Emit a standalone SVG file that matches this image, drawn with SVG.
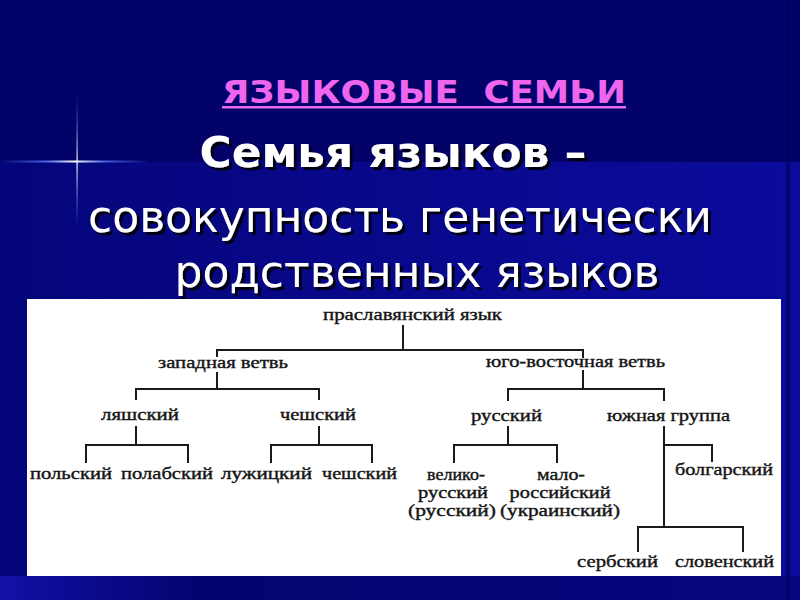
<svg xmlns="http://www.w3.org/2000/svg" width="800" height="600" viewBox="0 0 800 600">
<defs>
<linearGradient id="lowbg" x1="0" y1="0" x2="1" y2="0">
<stop offset="0" stop-color="#05057a"/>
<stop offset="0.5" stop-color="#08088c"/>
<stop offset="1" stop-color="#0b0b9c"/>
</linearGradient>
<linearGradient id="botbg" x1="0" y1="0" x2="1" y2="0">
<stop offset="0" stop-color="#1212a8"/>
<stop offset="0.07" stop-color="#0c0c96"/>
<stop offset="0.25" stop-color="#040470"/>
<stop offset="1" stop-color="#06067e"/>
</linearGradient>
<linearGradient id="hglow" x1="0" y1="0" x2="1" y2="0">
<stop offset="0" stop-color="#5a78ff" stop-opacity="0"/>
<stop offset="0.3" stop-color="#5a78ff" stop-opacity="0.8"/>
<stop offset="0.5" stop-color="#ffffff"/>
<stop offset="0.7" stop-color="#5a78ff" stop-opacity="0.8"/>
<stop offset="1" stop-color="#5a78ff" stop-opacity="0"/>
</linearGradient>
<linearGradient id="vglow" x1="0" y1="0" x2="0" y2="1">
<stop offset="0" stop-color="#5a78ff" stop-opacity="0"/>
<stop offset="0.5" stop-color="#ffffff"/>
<stop offset="1" stop-color="#5a78ff" stop-opacity="0"/>
</linearGradient>
<filter id="shadow" x="-5%" y="-20%" width="110%" height="150%">
<feDropShadow dx="3" dy="3" stdDeviation="0.6" flood-color="#000000" flood-opacity="0.85"/>
</filter>
<style>
.tree text { font-family: "Liberation Serif", "Times New Roman", serif; font-size: 17px; fill: #151515; stroke: #151515; stroke-width: 0.4; }
.conn line { stroke: #1a1a1a; stroke-width: 2; }
.hd { font-family: "DejaVu Sans", Verdana, sans-serif; fill: #ffffff; }
</style>
</defs>

<!-- background -->
<rect x="0" y="0" width="800" height="600" fill="#020268"/>
<rect x="0" y="162" width="800" height="438" fill="url(#lowbg)"/>
<rect x="0" y="576" width="800" height="24" fill="url(#botbg)"/>
<rect x="786" y="0" width="4" height="600" fill="#01015a" opacity="0.6"/>

<!-- sparkle -->
<rect x="0" y="160.5" width="150" height="2" fill="url(#hglow)"/>
<rect x="76.5" y="95" width="1.2" height="135" fill="url(#vglow)"/>

<!-- headings -->
<g id="title">
<text x="424" y="103" text-anchor="middle" class="hd" font-size="32" font-weight="bold" style="fill:#ee66ee" textLength="404" lengthAdjust="spacingAndGlyphs" xml:space="preserve">ЯЗЫКОВЫЕ  СЕМЬИ</text>
<rect x="222" y="106" width="404" height="2.5" fill="#ee66ee"/>
</g>
<g id="subtitle" filter="url(#shadow)">
<text x="393" y="167" text-anchor="middle" class="hd" font-size="42" font-weight="bold" textLength="387" lengthAdjust="spacingAndGlyphs">Семья языков –</text>
<text x="400" y="232" text-anchor="middle" class="hd" font-size="44" textLength="624" lengthAdjust="spacingAndGlyphs">совокупность генетически</text>
<text x="417" y="287" text-anchor="middle" class="hd" font-size="44" textLength="485" lengthAdjust="spacingAndGlyphs">родственных языков</text>
</g>

<!-- white panel -->
<rect x="27" y="299" width="754" height="277" fill="#ffffff"/>

<!-- connectors -->
<g id="connectors" class="conn">
<line x1="403" y1="325" x2="403" y2="350"/>
<line x1="216" y1="350" x2="584" y2="350"/>
<line x1="217" y1="350" x2="217" y2="357"/>
<line x1="217" y1="372" x2="217" y2="390"/>
<line x1="583" y1="350" x2="583" y2="358"/>
<line x1="583" y1="370" x2="583" y2="390"/>
<line x1="135" y1="389" x2="320" y2="389"/>
<line x1="136" y1="389" x2="136" y2="400"/>
<line x1="319" y1="389" x2="319" y2="400"/>
<line x1="507" y1="389" x2="665" y2="389"/>
<line x1="508" y1="389" x2="508" y2="401"/>
<line x1="664" y1="389" x2="664" y2="401"/>
<line x1="136" y1="426" x2="136" y2="445"/>
<line x1="85" y1="445" x2="189" y2="445"/>
<line x1="86" y1="445" x2="86" y2="463"/>
<line x1="188" y1="445" x2="188" y2="463"/>
<line x1="319" y1="426" x2="319" y2="445"/>
<line x1="270" y1="445" x2="373" y2="445"/>
<line x1="271" y1="445" x2="271" y2="463"/>
<line x1="372" y1="445" x2="372" y2="463"/>
<line x1="508" y1="426" x2="508" y2="445"/>
<line x1="453" y1="445" x2="558" y2="445"/>
<line x1="454" y1="445" x2="454" y2="463"/>
<line x1="557" y1="445" x2="557" y2="463"/>
<line x1="664" y1="426" x2="664" y2="528"/>
<line x1="664" y1="445" x2="713" y2="445"/>
<line x1="712" y1="445" x2="712" y2="462"/>
<line x1="637" y1="527" x2="744" y2="527"/>
<line x1="638" y1="527" x2="638" y2="552"/>
<line x1="743" y1="527" x2="743" y2="552"/>
</g>

<!-- nodes -->
<g class="tree">
<g id="n-root"><text x="323" y="320" textLength="179" lengthAdjust="spacingAndGlyphs">праславянский язык</text></g>
<g id="n-west"><text x="158" y="368" textLength="130" lengthAdjust="spacingAndGlyphs">западная ветвь</text></g>
<g id="n-southeast"><text x="486" y="367" textLength="179" lengthAdjust="spacingAndGlyphs">юго-восточная ветвь</text></g>
<g id="n-lekh"><text x="101" y="420" textLength="78" lengthAdjust="spacingAndGlyphs">ляшский</text></g>
<g id="n-czech1"><text x="280" y="420" textLength="76" lengthAdjust="spacingAndGlyphs">чешский</text></g>
<g id="n-russian"><text x="471" y="421" textLength="71" lengthAdjust="spacingAndGlyphs">русский</text></g>
<g id="n-south"><text x="607" y="421" textLength="123" lengthAdjust="spacingAndGlyphs">южная группа</text></g>
<g id="n-polish"><text x="30" y="479" textLength="82" lengthAdjust="spacingAndGlyphs">польский</text></g>
<g id="n-polabian"><text x="121" y="479" textLength="92" lengthAdjust="spacingAndGlyphs">полабский</text></g>
<g id="n-sorbian"><text x="221" y="479" textLength="91" lengthAdjust="spacingAndGlyphs">лужицкий</text></g>
<g id="n-czech2"><text x="322" y="479" textLength="75" lengthAdjust="spacingAndGlyphs">чешский</text></g>
<g id="n-greatrus">
<text x="456" y="480" text-anchor="middle" textLength="58" lengthAdjust="spacingAndGlyphs">велико-</text>
<text x="453" y="498" text-anchor="middle" textLength="70" lengthAdjust="spacingAndGlyphs">русский</text>
<text x="452" y="516" text-anchor="middle" textLength="88" lengthAdjust="spacingAndGlyphs">(русский)</text>
</g>
<g id="n-littlerus">
<text x="561" y="480" text-anchor="middle" textLength="48" lengthAdjust="spacingAndGlyphs">мало-</text>
<text x="560" y="498" text-anchor="middle" textLength="101" lengthAdjust="spacingAndGlyphs">российский</text>
<text x="560" y="516" text-anchor="middle" textLength="120" lengthAdjust="spacingAndGlyphs">(украинский)</text>
</g>
<g id="n-bulgarian"><text x="675" y="475" textLength="98" lengthAdjust="spacingAndGlyphs">болгарский</text></g>
<g id="n-serbian"><text x="577" y="567" textLength="81" lengthAdjust="spacingAndGlyphs">сербский</text></g>
<g id="n-slovene"><text x="675" y="567" textLength="99" lengthAdjust="spacingAndGlyphs">словенский</text></g>
</g>
</svg>
